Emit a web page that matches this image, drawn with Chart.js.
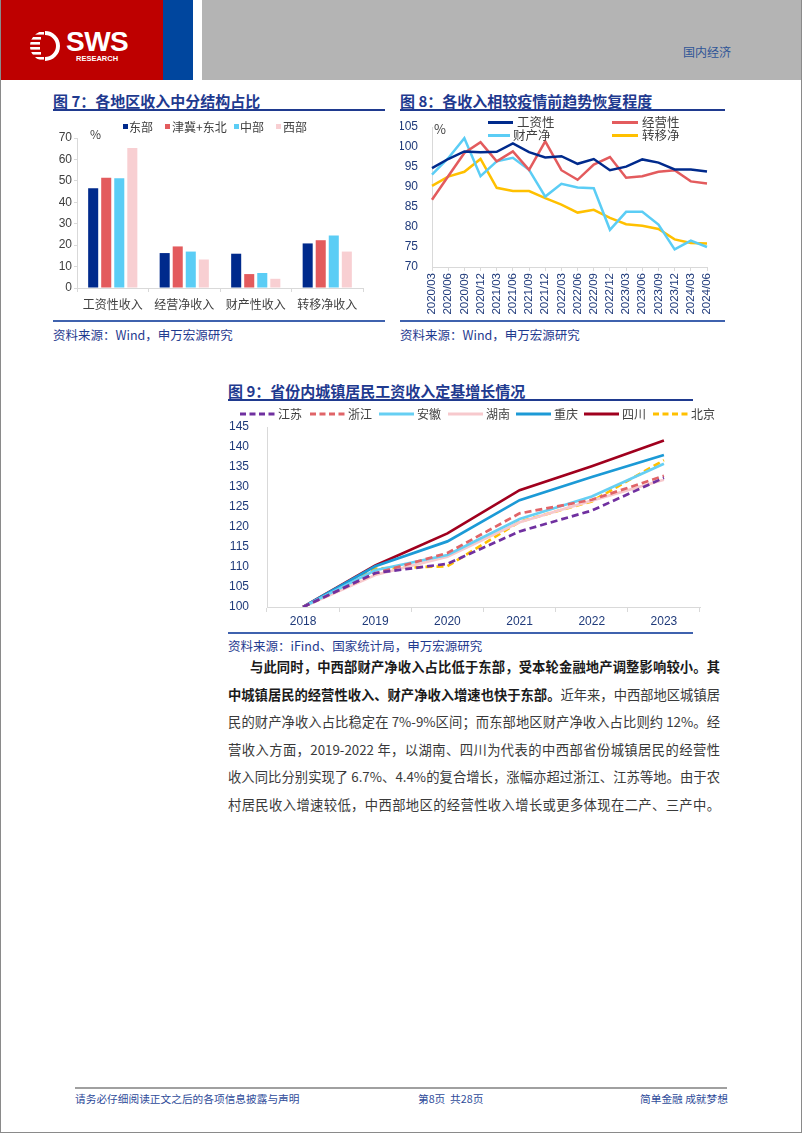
<!DOCTYPE html>
<html><head><meta charset="utf-8">
<script src="https://cdn.jsdelivr.net/npm/chart.js@4"></script>
<style>
html,body{margin:0;padding:0;background:#fff;}
#page{position:relative;width:802px;height:1133px;overflow:hidden;font-family:'Noto Sans CJK SC','Liberation Sans',sans-serif;}
.a{position:absolute;white-space:nowrap;}
.title{font-weight:bold;font-size:15px;line-height:20px;color:#1F3A8F;}
.uline{height:2px;background:#1F3A8F;}
.sline{height:1.5px;background:#3F62AE;}
.src{font-size:12.5px;line-height:16px;color:#1F3A8F;}
.lg{font-size:12px;line-height:14px;color:#404040;}
.body{font-size:13.3px;line-height:20px;color:#3a3a3a;width:492px;left:228px;text-align:justify;text-align-last:justify;white-space:normal;}
.body b{color:#1a1a1a;}
.foot{font-size:10.7px;line-height:14px;color:#2F4C9A;}
canvas{position:absolute;}
</style></head>
<body><div id="page">
<!-- header -->
<div class="a" style="left:0;top:0;width:163px;height:80px;background:#BE0000"></div>
<div class="a" style="left:163px;top:0;width:30px;height:80px;background:#00469E"></div>
<div class="a" style="left:202px;top:0;width:600px;height:80px;background:#B4B4B4"></div>
<svg class="a" style="left:28px;top:28px" width="36" height="36" viewBox="0 0 36 36">
 <defs><clipPath id="cc"><circle cx="17" cy="18" r="15"/></clipPath></defs>
 <g clip-path="url(#cc)" fill="#fff">
  <rect x="0" y="4" width="16" height="2.6"/><rect x="0" y="9" width="13" height="2.6"/>
  <rect x="0" y="14" width="12" height="2.6"/><rect x="0" y="19" width="12" height="2.6"/>
  <rect x="0" y="24" width="13" height="2.6"/><rect x="0" y="29" width="16" height="2.6"/>
 </g>
 <path d="M17 3 A15 15 0 0 1 17 33 L17 29 A11 11 0 0 0 17 7 Z" fill="#fff"/>
</svg>
<div class="a" style="left:66px;top:27px;font:bold 28px/30px 'Liberation Sans',sans-serif;color:#fff;letter-spacing:-0.5px">SWS</div>
<div class="a" style="left:76px;top:54px;font:bold 7.5px/9px 'Liberation Sans',sans-serif;color:#fff">RESEARCH</div>
<div class="a" style="left:683px;top:44px;font-size:12px;line-height:16px;color:#2F5597">国内经济</div>

<!-- fig 7 -->
<div class="a title" style="left:53px;top:91px">图 7：各地区收入中分结构占比</div>
<div class="a uline" style="left:53px;top:109px;width:332px"></div>
<canvas id="c7" width="332" height="206" style="left:53px;top:112px"></canvas>
<div class="a lg" style="left:90px;top:127px">%</div>
<div class="a" style="left:123px;top:124px;width:5px;height:5px;background:#002A8C"></div><div class="a lg" style="left:129px;top:120px">东部</div>
<div class="a" style="left:165px;top:124px;width:5px;height:5px;background:#E35B5D"></div><div class="a lg" style="left:172px;top:120px">津冀+东北</div>
<div class="a" style="left:234px;top:124px;width:5px;height:5px;background:#5BCDF5"></div><div class="a lg" style="left:240px;top:120px">中部</div>
<div class="a" style="left:276px;top:124px;width:5px;height:5px;background:#F8CFD2"></div><div class="a lg" style="left:283px;top:120px">西部</div>
<div class="a sline" style="left:53px;top:320px;width:332px"></div>
<div class="a src" style="left:53px;top:327px">资料来源：Wind，申万宏源研究</div>

<!-- fig 8 -->
<div class="a title" style="left:400px;top:91px">图 8：各收入相较疫情前趋势恢复程度</div>
<div class="a uline" style="left:400px;top:109px;width:325px"></div>
<canvas id="c8" width="325" height="208" style="left:400px;top:112px"></canvas>
<div class="a lg" style="left:434px;top:122px;font-size:13px">%</div>
<div class="a" style="left:488px;top:120.5px;width:25px;height:3px;background:#002A8C"></div><div class="a lg" style="left:517px;top:115px;font-size:12.5px">工资性</div>
<div class="a" style="left:612px;top:120.5px;width:26px;height:3px;background:#E35B5D"></div><div class="a lg" style="left:642px;top:115px;font-size:12.5px">经营性</div>
<div class="a" style="left:488px;top:133.5px;width:22px;height:3px;background:#5BCDF5"></div><div class="a lg" style="left:513px;top:128px;font-size:12.5px">财产净</div>
<div class="a" style="left:612px;top:133.5px;width:26px;height:3px;background:#FFC000"></div><div class="a lg" style="left:642px;top:128px;font-size:12.5px">转移净</div>
<div class="a sline" style="left:400px;top:320px;width:325px"></div>
<div class="a src" style="left:400px;top:327px">资料来源：Wind，申万宏源研究</div>

<!-- fig 9 -->
<div class="a title" style="left:228px;top:381px">图 9：省份内城镇居民工资收入定基增长情况</div>
<div class="a uline" style="left:228px;top:399px;width:465px"></div>
<canvas id="c9" width="502" height="228" style="left:228px;top:402px"></canvas>
<div id="lg9"></div>
<div class="a sline" style="left:228px;top:632px;width:465px"></div>
<div class="a src" style="left:228px;top:638px">资料来源：iFind、国家统计局，申万宏源研究</div>

<!-- body text -->
<div class="a body" style="top:657px;left:250px;width:470px"><b>与此同时，中西部财产净收入占比低于东部，受本轮金融地产调整影响较小。其</b></div>
<div class="a body" style="top:685px"><b>中城镇居民的经营性收入、财产净收入增速也快于东部。</b>近年来，中西部地区城镇居</div>
<div class="a body" style="top:712px">民的财产净收入占比稳定在 7%-9%区间；而东部地区财产净收入占比则约 12%。经</div>
<div class="a body" style="top:740px">营收入方面，2019-2022 年，以湖南、四川为代表的中西部省份城镇居民的经营性</div>
<div class="a body" style="top:767px">收入同比分别实现了 6.7%、4.4%的复合增长，涨幅亦超过浙江、江苏等地。由于农</div>
<div class="a body" style="top:795px">村居民收入增速较低，中西部地区的经营性收入增长或更多体现在二产、三产中。</div>

<!-- footer -->
<div class="a" style="left:75px;top:1087px;width:652px;height:2px;background:#A0A0A0"></div>
<div class="a foot" style="left:75px;top:1092px">请务必仔细阅读正文之后的各项信息披露与声明</div>
<div class="a foot" style="left:418px;top:1092px">第8页&nbsp;&nbsp;共28页</div>
<div class="a foot" style="left:640px;top:1092px;width:85px;text-align:right">简单金融 成就梦想</div>
<div class="a" style="left:0;top:0;width:802px;height:1133px;box-sizing:border-box;border:1px solid #8a8a8a;border-top:none;pointer-events:none"></div>
</div>
<script>
// ---------- data: figure 7 ----------
const regionCats = ['工资性收入','经营净收入','财产性收入','转移净收入'];
const regionNames = ['东部','津冀+东北','中部','西部'];
const eastVals = [46.5, 16.3, 16.0, 20.8];
const jinjiNEVals = [51.5, 19.4, 6.5, 22.3];
const centralVals = [51.2, 17.0, 7.0, 24.5];
const westVals = [65.3, 13.3, 4.3, 17.0];

// ---------- data: figure 8 ----------
const quarters = ['2020/03','2020/06','2020/09','2020/12','2021/03','2021/06','2021/09','2021/12','2022/03','2022/06','2022/09','2022/12','2023/03','2023/06','2023/09','2023/12','2024/03','2024/06'];
const incomeNames = ['工资性','经营性','财产净','转移净'];
const wageVals = [94.7, 97.0, 98.9, 98.7, 98.8, 100.9, 98.7, 97.4, 97.7, 95.8, 97.0, 94.2, 95.1, 96.9, 96.1, 94.4, 94.4, 93.9];
const businessVals = [86.8, 92.7, 98.5, 101.2, 96.4, 98.9, 94.3, 101.4, 94.2, 91.8, 95.6, 97.5, 92.3, 92.7, 93.8, 94.2, 91.4, 90.9];
const propertyVals = [93.1, 97.2, 102.2, 92.7, 96.4, 97.3, 94.3, 87.6, 90.8, 89.9, 89.7, 79.3, 83.8, 83.8, 80.6, 74.4, 76.6, 75.0];
const transferVals = [90.3, 92.6, 93.8, 97.0, 89.8, 89.0, 89.0, 87.2, 85.6, 83.6, 84.3, 82.3, 80.7, 80.3, 79.5, 76.9, 76.0, 75.9];

// ---------- data: figure 9 ----------
const years = ['2018','2019','2020','2021','2022','2023'];
const provinceNames = ['江苏','浙江','安徽','湖南','重庆','四川','北京'];
const jiangsuVals = [100, 108.5, 110.8, 118.9, 124.1, 132.3];
const zhejiangVals = [100, 108.4, 113.5, 123.4, 126.8, 132.8];
const anhuiVals = [100, 109.2, 113.0, 122.0, 127.6, 135.8];
const hunanVals = [100, 108.0, 112.6, 121.2, 126.6, 131.8];
const chongqingVals = [100, 110.2, 116.4, 126.7, 132.5, 138.0];
const sichuanVals = [100, 110.4, 118.4, 129.2, 135.2, 141.6];
const beijingVals = [100, 109.6, 110.2, 121.3, 126.4, 136.7];

Chart.defaults.font.family = "'Liberation Sans','Noto Sans CJK SC',sans-serif";
Chart.defaults.animation = false;
const CJK = "'Noto Sans CJK SC','Liberation Sans',sans-serif";
const AX = '#D9D9D9';
const NAVY = '#1F3A7A';

// ---------- figure 7 ----------
const barColors = ['#002A8C','#E35B5D','#5BCDF5','#F8CFD2'];
const barSeries = [eastVals, jinjiNEVals, centralVals, westVals];
new Chart(document.getElementById('c7'), {
  type: 'bar',
  data: {
    labels: regionCats,
    datasets: barSeries.map((d, i) => ({
      label: regionNames[i], data: d, backgroundColor: barColors[i],
      categoryPercentage: 0.73, barPercentage: 0.77
    }))
  },
  options: {
    responsive: false,
    layout: { padding: { top: 26, right: 22, bottom: 0, left: 0 } },
    plugins: { legend: { display: false }, tooltip: { enabled: false } },
    scales: {
      x: {
        grid: { display: true, drawOnChartArea: false, offset: true, tickLength: 4, color: AX },
        border: { color: AX },
        ticks: { font: { size: 12, family: CJK }, color: '#404040', padding: 5 },
        afterFit(s) { s.height = 30; }
      },
      y: {
        min: 0, max: 70,
        grid: { display: true, drawOnChartArea: false, tickLength: 3, color: AX },
        border: { color: AX },
        ticks: { stepSize: 10, font: { size: 12 }, color: '#404040', padding: 2 },
        afterFit(s) { s.width = 24; }
      }
    }
  }
});

// ---------- figure 8 ----------
const lineColors8 = ['#002A8C','#E35B5D','#5BCDF5','#FFC000'];
const lineSeries8 = [wageVals, businessVals, propertyVals, transferVals];
new Chart(document.getElementById('c8'), {
  type: 'line',
  data: {
    labels: quarters,
    datasets: lineSeries8.map((d, i) => ({
      label: incomeNames[i], data: d, borderColor: lineColors8[i], backgroundColor: lineColors8[i],
      borderWidth: 2.5, pointRadius: 0, tension: 0, fill: false
    }))
  },
  options: {
    responsive: false,
    layout: { padding: { top: 15, right: 18, bottom: 3, left: 0 } },
    plugins: { legend: { display: false }, tooltip: { enabled: false } },
    scales: {
      x: {
        grid: { display: true, drawOnChartArea: false, tickLength: 4, color: AX },
        border: { color: AX },
        ticks: { autoSkip: false, minRotation: 90, maxRotation: 90, font: { size: 11.5 }, color: NAVY, padding: 2 },
        afterFit(s) { s.height = 50; }
      },
      y: {
        min: 70, max: 105,
        grid: { display: false },
        border: { display: true, color: AX },
        ticks: { stepSize: 5, font: { size: 12 }, color: NAVY, padding: 6 },
        afterFit(s) { s.width = 32; }
      }
    }
  }
});

// ---------- figure 9 ----------
const lineColors9 = ['#7030A0','#E06468','#66CFF3','#F7C9CD','#1C9AD6','#A0001E','#FFC000'];
const lineDash9 = [[7,4],[7,4],[],[],[],[],[7,4]];
const lineSeries9 = [jiangsuVals, zhejiangVals, anhuiVals, hunanVals, chongqingVals, sichuanVals, beijingVals];
new Chart(document.getElementById('c9'), {
  type: 'line',
  data: {
    labels: years,
    datasets: lineSeries9.map((d, i) => ({
      label: provinceNames[i], data: d, borderColor: lineColors9[i], backgroundColor: lineColors9[i],
      borderDash: lineDash9[i], borderWidth: 2.7, pointRadius: 0, tension: 0, fill: false
    }))
  },
  options: {
    responsive: false,
    layout: { padding: { top: 25, right: 30, bottom: 0, left: 0 } },
    plugins: { legend: { display: false }, tooltip: { enabled: false } },
    scales: {
      x: {
        offset: true,
        grid: { display: true, drawOnChartArea: false, offset: true, tickLength: 5, color: AX },
        border: { color: AX },
        ticks: { font: { size: 12 }, color: NAVY, padding: 2 },
        afterFit(s) { s.height = 23; }
      },
      y: {
        min: 100, max: 145,
        grid: { display: false },
        border: { display: true, color: AX },
        ticks: { stepSize: 5, font: { size: 12 }, color: NAVY, padding: 10 },
        afterFit(s) { s.width = 39; }
      }
    }
  }
});

// legend for figure 9 (HTML)
const lg9X = [240, 310, 379, 448, 516, 584, 653];
const lg9 = document.getElementById('lg9');
provinceNames.forEach((n, i) => {
  const x = lg9X[i];
  const dash = lineDash9[i].length ? 'stroke-dasharray="6 3.5"' : '';
  lg9.insertAdjacentHTML('beforeend',
    `<svg class="a" style="left:${x}px;top:412px" width="35" height="4"><line x1="0" y1="2" x2="35" y2="2" stroke="${lineColors9[i]}" stroke-width="3" ${dash}/></svg>` +
    `<div class="a lg" style="left:${x + 38}px;top:407px">${n}</div>`);
});
</script>
</body></html>
